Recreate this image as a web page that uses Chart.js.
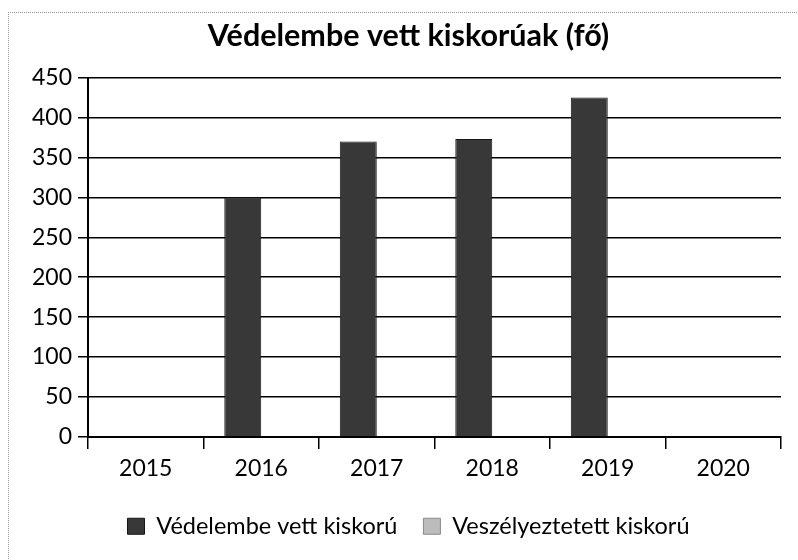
<!DOCTYPE html>
<html>
<head>
<meta charset="utf-8">
<script src="https://cdn.jsdelivr.net/npm/chart.js@4"></script>
<style>
  body { margin: 0; background: #fff; }
  #frame {
    position: absolute; left: 8px; top: 12px; width: 800px; height: 560px;
    border-top: 1px dotted #999; border-left: 1px dotted #999;
  }
  #chart { position: absolute; left: 0; top: 0; }
</style>
</head>
<body>
<div id="frame"></div>
<canvas id="chart" width="798" height="560"></canvas>
<script>
const years = ['2015', '2016', '2017', '2018', '2019', '2020'];
const vedelembeVett = [null, 300, 370, 373, 425, null];
const veszelyeztetett = [null, null, null, null, null, null];
const yTicks = [0, 50, 100, 150, 200, 250, 300, 350, 400, 450];

const fontFamily = 'Lato, "Open Sans", sans-serif';

const ctx = document.getElementById('chart').getContext('2d');
new Chart(ctx, {
    type: 'bar',
    data: {
        labels: years,
        datasets: [
            {
                label: 'Védelembe vett kiskorú',
                data: vedelembeVett,
                backgroundColor: '#383838',
                borderColor: '#151515',
                borderWidth: 1,
                categoryPercentage: 0.64,
                barPercentage: 1.0
            },
            {
                label: 'Veszélyeztetett kiskorú',
                data: veszelyeztetett,
                backgroundColor: '#bcbcbc',
                borderColor: '#8a8a8a',
                borderWidth: 1,
                categoryPercentage: 0.64,
                barPercentage: 1.0
            }
        ]
    },
    options: {
        responsive: false,
        animation: false,
        // left padding pushes the centred title and legend right, like the original
        layout: { padding: { left: 36, right: 17, top: 0, bottom: 12 } },
        plugins: {
            title: {
                display: true,
                text: 'Védelembe vett kiskorúak (fő)',
                color: '#000',
                font: { family: fontFamily, size: 30.5, weight: 'bold' },
                padding: { top: 18, bottom: 23 }
            },
            legend: {
                position: 'bottom',
                labels: {
                    color: '#000',
                    font: { family: fontFamily, size: 23.5 },
                    boxWidth: 17,
                    boxHeight: 16,
                    padding: 26
                }
            },
            tooltip: { enabled: false }
        },
        scales: {
            x: {
                grid: {
                    offset: true,
                    drawOnChartArea: false,
                    drawTicks: true,
                    tickLength: 12,
                    color: '#000',
                    lineWidth: 1.5
                },
                border: { display: true, color: '#000', width: 2 },
                ticks: {
                    color: '#000',
                    font: { family: fontFamily, size: 23 },
                    padding: 6
                }
            },
            y: {
                min: 0,
                max: 450,
                afterFit: (scale) => {
                    scale.width = 52;
                    // labels reach into the left padding, so don't clip them to the scale box
                    scale._computeLabelArea = () => ({ top: 0, left: 0, bottom: scale.chart.height, right: scale.right });
                },
                afterBuildTicks: (scale) => {
                    scale.ticks = yTicks.map(v => ({ value: v }));
                },
                grid: {
                    drawTicks: true,
                    tickLength: 10,
                    color: '#000',
                    lineWidth: 1.5
                },
                border: { display: true, color: '#000', width: 2 },
                ticks: {
                    color: '#000',
                    font: { family: fontFamily, size: 23 },
                    padding: 6
                }
            }
        }
    }
});
</script>
</body>
</html>
